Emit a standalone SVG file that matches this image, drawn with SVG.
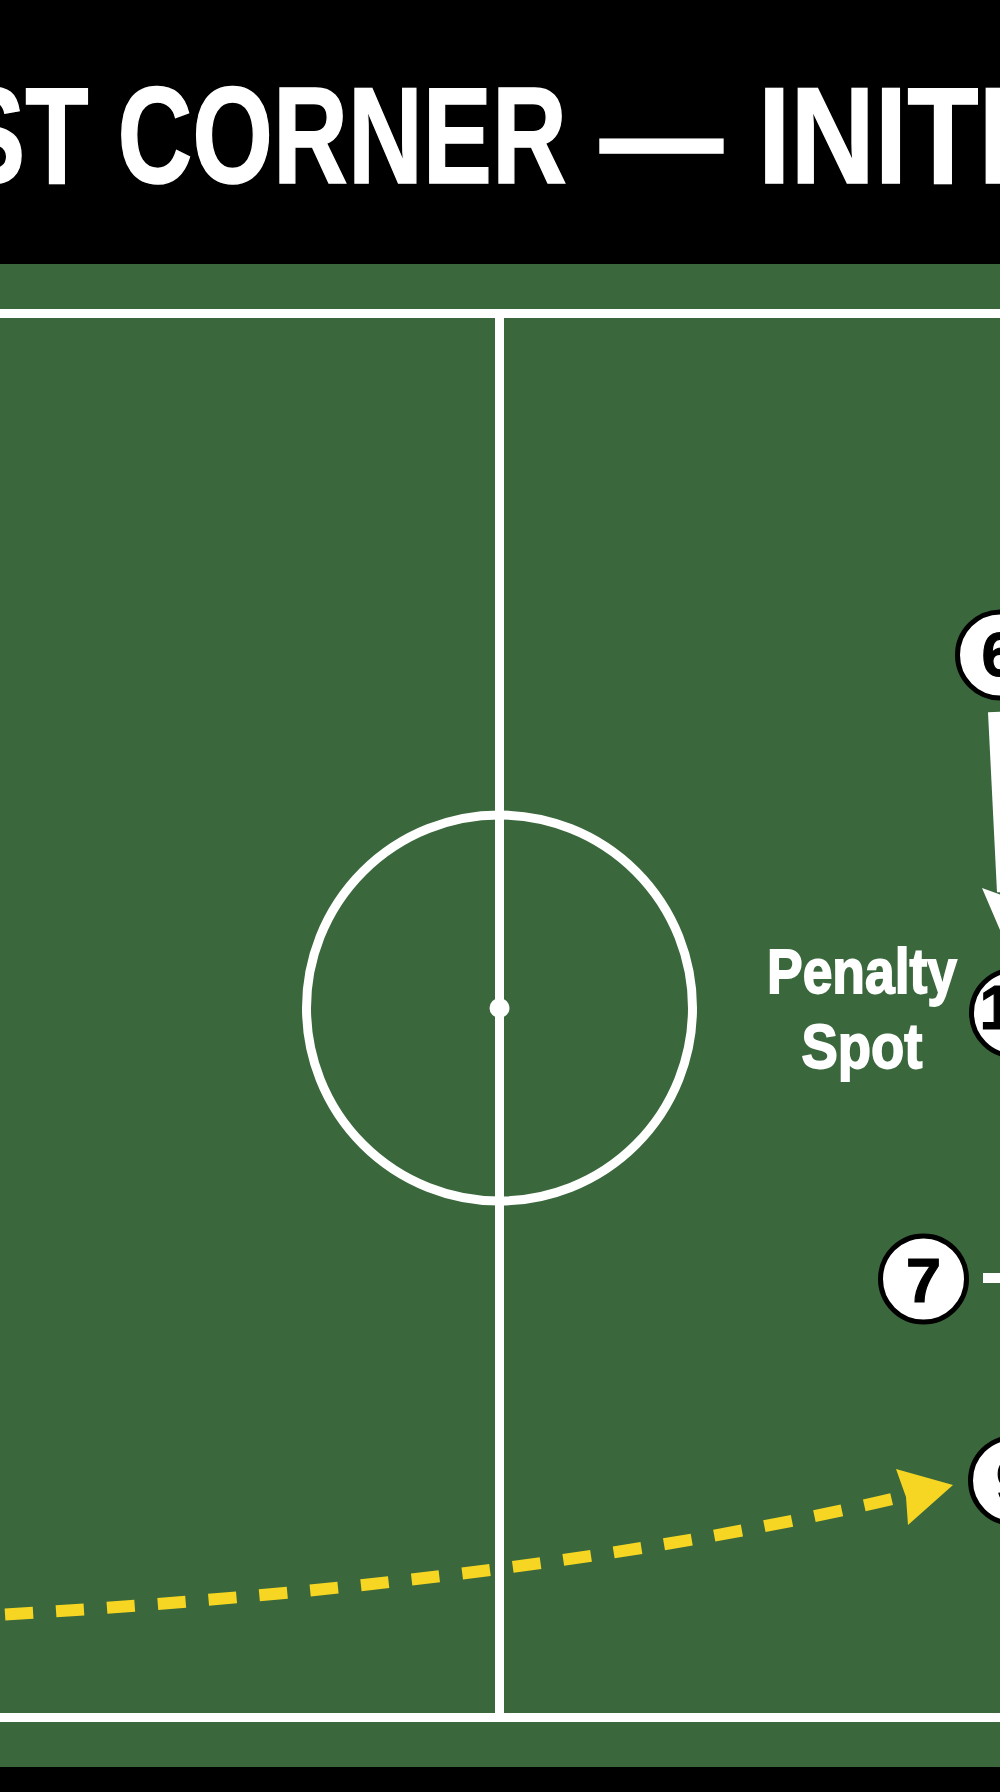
<svg xmlns="http://www.w3.org/2000/svg" width="1000" height="1792" viewBox="0 0 1000 1792">
  <defs>
    <style>
      .title { font-family: "Liberation Sans", Arial, sans-serif; font-weight: bold; font-size: 137px; fill: #ffffff; stroke: #ffffff; stroke-width: 1.5; }
      .mark { fill: none; stroke: #ffffff; stroke-width: 9; }
      .player circle { fill: #ffffff; stroke: #000000; stroke-width: 5; }
      .num { font-family: "Liberation Sans", Arial, sans-serif; font-weight: bold; font-size: 63px; fill: #000000; stroke: #000000; stroke-width: 1.2; }
      .label { font-family: "Liberation Sans", Arial, sans-serif; font-weight: bold; font-size: 63px; fill: #ffffff; stroke: #ffffff; stroke-width: 1.8; text-anchor: middle; }
      .run { stroke: #ffffff; stroke-width: 12; fill: none; }
      .pass { stroke: #f6d622; stroke-width: 12; fill: none; stroke-dasharray: 28 23; }
    </style>
  </defs>

  <!-- background -->
  <rect x="0" y="0" width="1000" height="1792" fill="#000000"/>
  <rect x="0" y="264" width="1000" height="1503" fill="#3a683c"/>

  <!-- title -->
  <g id="title">
    <text class="title" x="-44" y="183" textLength="611" lengthAdjust="spacingAndGlyphs">ST CORNER</text>
    <text class="title" x="600" y="183" textLength="123" lengthAdjust="spacingAndGlyphs">—</text>
    <text class="title" x="758" y="183" textLength="253" lengthAdjust="spacingAndGlyphs">INITI</text>
  </g>

  <!-- field markings -->
  <g id="field">
    <line class="mark" x1="0" y1="313.5" x2="1000" y2="313.5"/>
    <line class="mark" x1="0" y1="1717.5" x2="1000" y2="1717.5"/>
    <line class="mark" x1="499.5" y1="313.5" x2="499.5" y2="1717.5"/>
    <circle class="mark" cx="499.5" cy="1008" r="193"/>
    <circle cx="499.5" cy="1008" r="10" fill="#ffffff"/>
  </g>

  <!-- connectors -->
  <g id="connectors">
    <g id="run-6">
      <line class="run" x1="994" y1="712" x2="1003" y2="892"/>
      <polygon points="982,888 1006,944 1028,886 1004,896" fill="#ffffff"/>
    </g>
    <g id="run-7">
      <line stroke="#ffffff" stroke-width="10" x1="983" y1="1278" x2="1010" y2="1278"/>
    </g>
    <g id="pass">
      <path class="pass" d="M5,1614.5 Q545,1582 905,1496"/>
      <polygon points="896,1469 953,1485 908,1525 906,1497" fill="#f6d622"/>
    </g>
  </g>

  <!-- label -->
  <g id="penalty-spot-label">
    <text class="label" x="862" y="993" textLength="190" lengthAdjust="spacingAndGlyphs">Penalty</text>
    <text class="label" x="862" y="1068" textLength="121" lengthAdjust="spacingAndGlyphs">Spot</text>
  </g>

  <!-- players -->
  <g id="player-6" class="player">
    <circle cx="1000.5" cy="655" r="43"/>
    <text class="num" x="999" y="676" text-anchor="middle">6</text>
  </g>
  <g id="player-1" class="player">
    <circle cx="1014.5" cy="1013" r="43"/>
    <text class="num" x="979.5" y="1029">1</text>
  </g>
  <g id="player-7" class="player">
    <circle cx="923.5" cy="1279" r="43"/>
    <text class="num" x="923.5" y="1302" text-anchor="middle">7</text>
  </g>
  <g id="player-9" class="player">
    <circle cx="1013.5" cy="1480.5" r="43"/>
    <text class="num" x="1013.5" y="1503" text-anchor="middle">9</text>
  </g>
</svg>
